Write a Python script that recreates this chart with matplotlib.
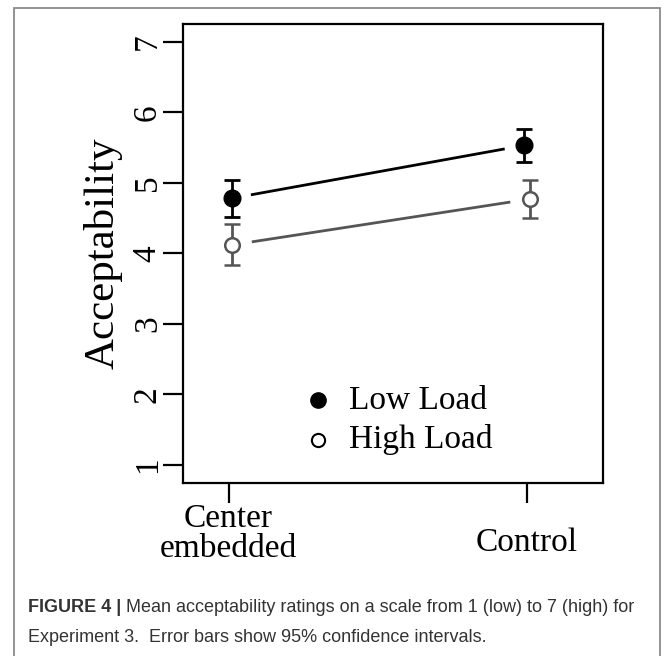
import matplotlib
matplotlib.use("Agg")
import matplotlib.pyplot as plt
from matplotlib.patches import Rectangle
from matplotlib.transforms import ScaledTranslation

# data
categories = ["Center\nembedded", "Control"]
low_mean = [4.78, 5.53]
low_ci = [0.265, 0.23]
high_mean = [4.12, 4.77]
high_ci = [0.29, 0.27]
yticks = [1, 2, 3, 4, 5, 6, 7]
caption_bold = "FIGURE 4 |"
caption_rest = " Mean acceptability ratings on a scale from 1 (low) to 7 (high) for"
caption_line2 = "Experiment 3.  Error bars show 95% confidence intervals."

SERIF = "Liberation Serif"
W, H = 669, 656
fig = plt.figure(figsize=(W / 100, H / 100), dpi=100)

# outer light frame
fig.patches.append(Rectangle((14 / W, -0.05), (660 - 14) / W, 1.05 - 8 / H,
                             transform=fig.transFigure, fill=False,
                             edgecolor="#8a8a8a", linewidth=1.3))

ax = fig.add_axes([183 / W, 1 - 483 / H, (603 - 183) / W, (483 - 23.7) / H])

xpos = [1, 2]
low_x = [xpos[0] + 0.01, xpos[1] - 0.009]
high_x = [xpos[0] + 0.012, xpos[1] + 0.011]


def gapped(ax, xs, ys, color, lw):
    # R type="b": segment stops short of the points
    f = 0.066
    dx, dy = xs[1] - xs[0], ys[1] - ys[0]
    ax.plot([xs[0] + f * dx, xs[1] - f * dx], [ys[0] + f * dy, ys[1] - f * dy],
            color=color, lw=lw, solid_capstyle="butt", zorder=2)


gapped(ax, low_x, low_mean, "black", 2.0)
gapped(ax, high_x, high_mean, "#555555", 2.0)

ax.errorbar(low_x, low_mean, yerr=low_ci, fmt="o", color="black", ms=12,
            mfc="black", mec="black", elinewidth=2, capsize=5.5, capthick=2,
            zorder=3)
ax.errorbar(high_x, high_mean, yerr=high_ci, fmt="o", color="#555555", ms=10.5,
            mfc="white", mec="#555555", mew=1.8, elinewidth=2, capsize=5.5,
            capthick=2, zorder=3)

ax.set_xlim(0.847, 2.256)
ax.set_ylim(0.745, 7.255)
ax.set_yticks(yticks)
ax.set_yticklabels([str(v) for v in yticks], family=SERIF, fontsize=24,
                   rotation=90, va="center")
ax.set_xticks(xpos)
ax.set_xticklabels(categories, family=SERIF, fontsize=24, linespacing=1.0,
                   va="center")
ax.tick_params(length=14.5, width=1.6, color="black")
ax.tick_params(axis="y", pad=0)
ax.tick_params(axis="x", pad=22)
# single-line label sits a little lower, as in R
ctrl = ax.get_xticklabels()[1]
ctrl.set_transform(ctrl.get_transform() + ScaledTranslation(0, -9 / 100, fig.dpi_scale_trans))
for s in ax.spines.values():
    s.set_linewidth(1.6)
ax.set_ylabel("Acceptability", family=SERIF, fontsize=31, labelpad=7)

# legend drawn by hand to match the R layout
ax.plot([1.30], [1.915], "o", color="black", ms=11)
ax.plot([1.30], [1.36], "o", mfc="white", mec="black", mew=1.5, ms=9.5)
ax.text(1.404, 1.915, "Low Load", family=SERIF, fontsize=24, va="center")
ax.text(1.404, 1.36, "High Load", family=SERIF, fontsize=24, va="center")

# caption
cap_kw = dict(fontsize=13, color="#333333",
              family=["Liberation Sans Narrow", "Liberation Sans"])
t1 = fig.text(28 / W, 1 - 608 / H, caption_bold, fontweight="bold",
              va="center", **cap_kw)
fig.canvas.draw()
bb = t1.get_window_extent()
fig.text(bb.x1 / W, 1 - 608 / H, caption_rest, va="center", **cap_kw)
fig.text(28 / W, 1 - 637 / H, caption_line2, va="center", **cap_kw)

fig.savefig("out.png", dpi=100)
